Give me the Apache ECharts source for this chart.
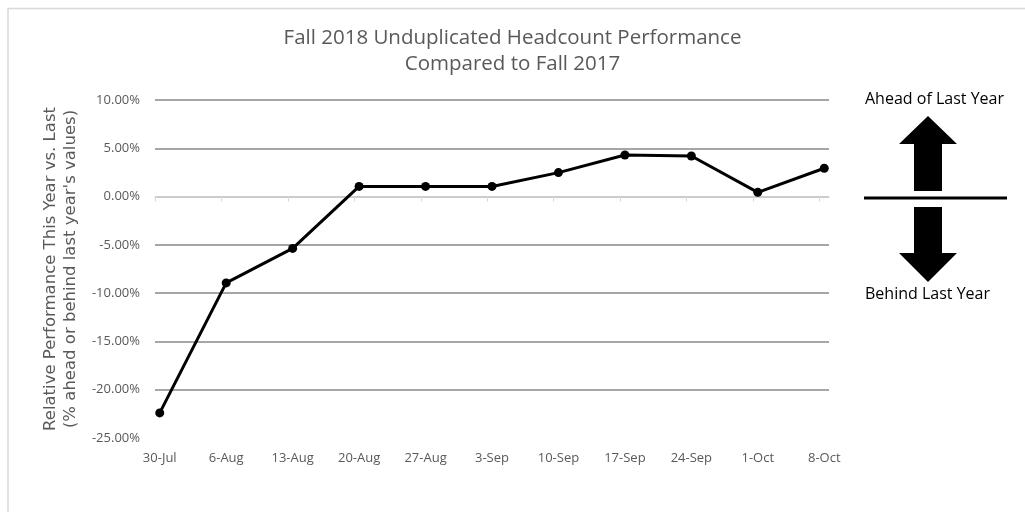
<!DOCTYPE html>
<html>
<head>
<meta charset="utf-8">
<script src="https://cdn.jsdelivr.net/npm/echarts@6/dist/echarts.min.js"></script>
<style>
  html, body { margin: 0; padding: 0; background: #ffffff; }
  #chart { width: 1025px; height: 512px; }
</style>
</head>
<body>
<div id="chart"></div>
<script>
// ---- data ----
const categories = ['30-Jul', '6-Aug', '13-Aug', '20-Aug', '27-Aug', '3-Sep', '10-Sep', '17-Sep', '24-Sep', '1-Oct', '8-Oct'];
const values = [-22.4, -8.94, -5.37, 1.05, 1.05, 1.05, 2.48, 4.30, 4.20, 0.44, 2.93];
const yTicks = [-25, -20, -15, -10, -5, 0, 5, 10];
const daysPerWeek = 7;

// day-based positions (weekly dates, each point centred in its day)
const dayStart = categories.map((c, i) => i * daysPerWeek);
const dayMid = dayStart.map(d => d + 0.5);
const seriesData = values.map((v, i) => [dayMid[i], v]);

const chart = echarts.init(document.getElementById('chart'), null, { renderer: 'canvas' });

const labelColor = '#595959';
const font = '"Open Sans", "Liberation Sans", sans-serif';

chart.setOption({
  animation: false,
  backgroundColor: '#ffffff',
  title: {
    text: 'Fall 2018 Unduplicated Headcount Performance\nCompared to Fall 2017',
    left: 'center',
    top: 20,
    textStyle: {
      fontFamily: font,
      fontSize: 20.5,
      fontWeight: 'normal',
      color: labelColor,
      lineHeight: 26
    }
  },
  grid: { left: 155, right: 196, top: 100, bottom: 74 },
  xAxis: {
    type: 'value',
    min: 0,
    max: dayStart[dayStart.length - 1] + 1,
    interval: daysPerWeek,
    axisLine: { show: true, lineStyle: { color: '#d9d9d9', width: 1.5 } },
    axisTick: { show: true, length: 5, lineStyle: { color: '#d9d9d9', width: 1 }, customValues: dayStart },
    splitLine: { show: false },
    axisLabel: {
      customValues: dayMid,
      color: labelColor,
      fontFamily: font,
      fontSize: 13,
      margin: 14,
      formatter: function (v) {
        const idx = Math.round((v - 0.5) / daysPerWeek);
        return categories[idx] || '';
      }
    }
  },
  yAxis: {
    type: 'value',
    min: yTicks[0],
    max: yTicks[yTicks.length - 1],
    interval: 5,
    axisLine: { show: false },
    axisTick: { show: false },
    splitLine: { show: true, showMinLine: false, lineStyle: { color: '#888888', width: 1.5 } },
    axisLabel: {
      color: labelColor,
      fontFamily: font,
      fontSize: 13,
      margin: 15,
      formatter: v => v.toFixed(2) + '%'
    },
    name: 'Relative Performance This Year vs. Last\n(% ahead or behind last year\'s values)',
    nameLocation: 'middle',
    nameGap: 71,
    nameTextStyle: {
      color: labelColor,
      fontFamily: '"DejaVu Sans", sans-serif',
      fontSize: 16.5,
      lineHeight: 20
    }
  },
  series: [{
    type: 'line',
    data: seriesData,
    symbol: 'circle',
    symbolSize: 9,
    itemStyle: { color: '#000000' },
    lineStyle: { color: '#000000', width: 3 },
    z: 5
  }],
  graphic: [
    {
      type: 'polyline',
      shape: { points: [[8, 600], [8, 8.5], [1100, 8.5]] },
      style: { stroke: '#d9d9d9', lineWidth: 1.5, fill: null }
    },
    {
      type: 'text',
      left: 865, top: 91,
      style: { text: 'Ahead of Last Year', fill: '#000000', font: '16px "Open Sans", sans-serif' }
    },
    {
      type: 'polygon',
      shape: { points: [[928, 116], [957, 144], [942, 144], [942, 191], [914, 191], [914, 144], [899, 144]] },
      style: { fill: '#000000' }
    },
    {
      type: 'line',
      shape: { x1: 864, y1: 198, x2: 1007, y2: 198 },
      style: { stroke: '#000000', lineWidth: 3 }
    },
    {
      type: 'polygon',
      shape: { points: [[914, 207], [942, 207], [942, 253], [957, 253], [928, 282], [899, 253], [914, 253]] },
      style: { fill: '#000000' }
    },
    {
      type: 'text',
      left: 865, top: 286,
      style: { text: 'Behind Last Year', fill: '#000000', font: '16px "Open Sans", sans-serif' }
    }
  ]
});
</script>
</body>
</html>
